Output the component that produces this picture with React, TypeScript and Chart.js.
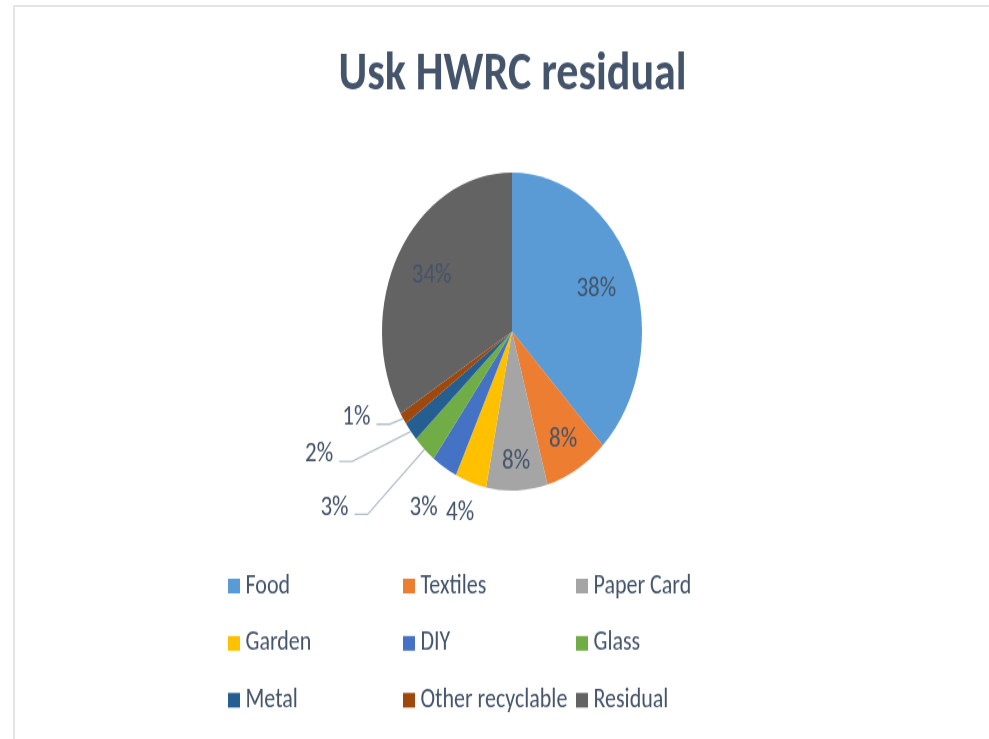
import React, { useEffect, useRef } from "react";
import { Chart, registerables } from "chart.js";

Chart.register(...registerables);

const chartTitle = "Usk HWRC residual";
const categories = [
  "Food",
  "Textiles",
  "Paper Card",
  "Garden",
  "DIY",
  "Glass",
  "Metal",
  "Other recyclable",
  "Residual",
];
const shares = [37.7, 7.9, 7.6, 3.9, 3.2, 2.9, 2.0, 1.2, 33.6];
const sliceColors = [
  "#5B9BD5",
  "#ED7D31",
  "#A5A5A5",
  "#FFC000",
  "#4472C4",
  "#70AD47",
  "#255E91",
  "#9E480E",
  "#636363",
];

// internal canvas size (stretched vertically on screen like the reference)
const CW = 989;
const CH = 604;
const DISPLAY_H = 739;

const FONT = "Carlito, Lato, 'Open Sans', sans-serif";
const TEXT_COLOR = "#44546A";

// label placement styles per slice
const labelPlacement: any[] = [
  { mode: "in", r: 0.7 },
  { mode: "in", r: 0.785 },
  { mode: "in", r: 0.82 },
  { mode: "out", dx: -10.5, dy: 25.3 },
  { mode: "out", dx: -20.8, dy: 33.5 },
  { mode: "leader", dx: -90, dy: 47.7 },
  { mode: "leader", dx: -91.7, dy: 19 },
  { mode: "leader", dx: -46.7, dy: -0.8 },
  { mode: "in", r: 0.71 },
];

const labelsPlugin = {
  id: "customLabels",
  afterDatasetsDraw(chart: any) {
    const ctx = chart.ctx as CanvasRenderingContext2D;
    const meta = chart.getDatasetMeta(0);
    const data = chart.data.datasets[0].data as number[];
    const total = data.reduce((a, b) => a + b, 0);
    ctx.save();
    ctx.font = `23px ${FONT}`;
    ctx.fillStyle = TEXT_COLOR;
    ctx.textAlign = "center";
    ctx.textBaseline = "middle";
    meta.data.forEach((arc: any, i: number) => {
      const { x, y, startAngle, endAngle, outerRadius } = arc.getProps(
        ["x", "y", "startAngle", "endAngle", "outerRadius"],
        true
      );
      const mid = (startAngle + endAngle) / 2;
      const text = Math.round((data[i] / total) * 100) + "%";
      const p = labelPlacement[i];
      let lx: number, ly: number;
      if (p.mode === "in") {
        lx = x + Math.cos(mid) * outerRadius * p.r;
        ly = y + Math.sin(mid) * outerRadius * p.r;
      } else {
        const ex = x + Math.cos(mid) * outerRadius;
        const ey = y + Math.sin(mid) * outerRadius;
        lx = ex + p.dx;
        ly = ey + p.dy;
        if (p.mode === "leader") {
          const w = ctx.measureText(text).width;
          const sx = lx + w / 2 + 6;
          const sy = ly + 5.5;
          ctx.save();
          ctx.strokeStyle = "#B4BDCA";
          ctx.lineWidth = 1.3;
          ctx.beginPath();
          ctx.moveTo(sx, sy);
          ctx.lineTo(sx + 13, sy);
          ctx.lineTo(ex, ey);
          ctx.stroke();
          ctx.restore();
        }
      }
      ctx.fillText(text, lx, ly);
    });
    ctx.restore();
  },
};

const titleLegendPlugin = {
  id: "titleLegend",
  afterDraw(chart: any) {
    const ctx = chart.ctx as CanvasRenderingContext2D;
    ctx.save();
    // title
    ctx.font = `bold 44px ${FONT}`;
    ctx.fillStyle = TEXT_COLOR;
    ctx.textAlign = "center";
    ctx.textBaseline = "alphabetic";
    ctx.fillText(chartTitle, 512.5, 72.8);
    // legend grid (3 columns)
    const colX = [228, 403, 576];
    const rowY = [479, 525.8, 572.3];
    ctx.font = `22px ${FONT}`;
    ctx.textAlign = "left";
    ctx.textBaseline = "middle";
    const labels = chart.data.labels as string[];
    const bg = chart.data.datasets[0].backgroundColor as string[];
    labels.forEach((lab, i) => {
      const c = i % 3;
      const r = Math.floor(i / 3);
      const bx = colX[c];
      const by = rowY[r];
      ctx.fillStyle = bg[i];
      ctx.fillRect(bx, by - 6, 12, 12);
      ctx.fillStyle = TEXT_COLOR;
      ctx.fillText(lab, bx + 17.5, by);
    });
    ctx.restore();
  },
};

export default function App() {
  const canvasRef = useRef<HTMLCanvasElement | null>(null);

  useEffect(() => {
    document.body.style.margin = "0";
    const canvas = canvasRef.current!;
    const chart = new Chart(canvas, {
      type: "pie",
      data: {
        labels: categories,
        datasets: [
          {
            data: shares,
            backgroundColor: sliceColors,
            borderWidth: 0,
          },
        ],
      },
      options: {
        responsive: false,
        animation: false,
        devicePixelRatio: 1,
        layout: { padding: { left: 382, right: 347, top: 141, bottom: 203 } },
        plugins: {
          legend: { display: false },
          tooltip: { enabled: false },
          title: { display: false },
        },
      },
      plugins: [labelsPlugin, titleLegendPlugin],
    } as any);
    return () => chart.destroy();
  }, []);

  return (
    <div
      style={{
        position: "fixed",
        left: 0,
        top: 0,
        width: 989,
        height: 739,
        background: "#ffffff",
        overflow: "hidden",
      }}
    >
      <canvas
        ref={canvasRef}
        width={CW}
        height={CH}
        style={{ width: `${CW}px`, height: `${DISPLAY_H}px`, display: "block" }}
      />
      <div
        style={{
          position: "absolute",
          left: 13,
          top: 5,
          right: 0,
          bottom: 0,
          borderTop: "2px solid #E4E4EA",
          borderLeft: "2px solid #E4E4EA",
          pointerEvents: "none",
        }}
      />
    </div>
  );
}
